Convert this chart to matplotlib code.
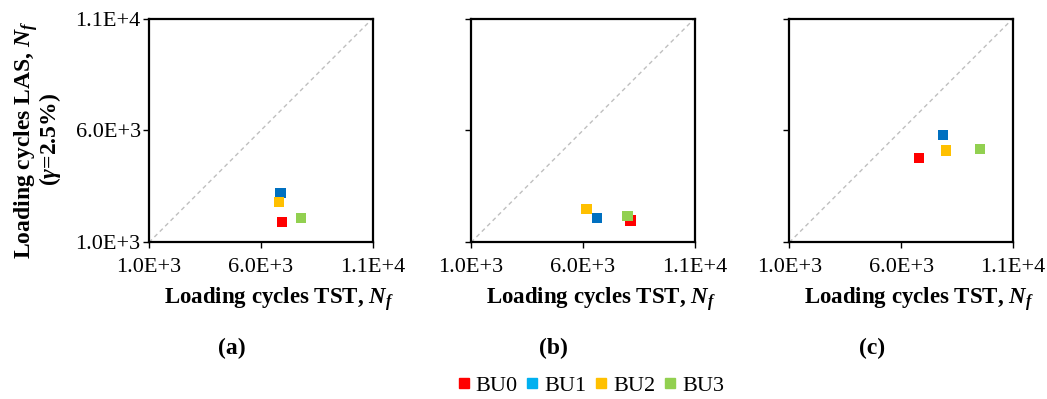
import matplotlib.pyplot as plt
from matplotlib.lines import Line2D

plt.rcParams['font.family'] = 'Liberation Serif'
plt.rcParams['mathtext.fontset'] = 'custom'
plt.rcParams['mathtext.rm'] = 'Liberation Serif'
plt.rcParams['mathtext.it'] = 'Liberation Serif:italic:bold'
plt.rcParams['mathtext.bf'] = 'Liberation Serif:bold'

series = ['BU0', 'BU1', 'BU2', 'BU3']
point_colors = ['#FF0000', '#0070C0', '#FFC000', '#92D050']
legend_colors = ['#FF0000', '#00B0F0', '#FFC000', '#92D050']

# loading cycles per binder: TST (x) vs LAS (y), one list per panel
tst_a = [6950, 6890, 6820, 7800]
las_a = [1900, 3210, 2800, 2095]
tst_b = [8130, 6650, 6160, 8000]
las_b = [1975, 2075, 2490, 2175]
tst_c = [6790, 7890, 8010, 9520]
las_c = [4775, 5790, 5105, 5175]

panels = [(tst_a, las_a, '(a)'), (tst_b, las_b, '(b)'), (tst_c, las_c, '(c)')]
ticks = [1000, 6000, 11000]
tick_labels = ['1.0E+3', '6.0E+3', '1.1E+4']

fig = plt.figure(figsize=(10.47, 3.99), dpi=100)
lefts = [0.1423, 0.4499, 0.7539]

for i, (tst, las, tag) in enumerate(panels):
    ax = fig.add_axes([lefts[i], 0.3925, 0.2135, 0.5610])
    ax.plot([1000, 11000], [1000, 11000], color='#BFBFBF', lw=1,
            dashes=(3, 2.5), zorder=1)
    for x, y, c in zip(tst, las, point_colors):
        ax.scatter(x, y, s=55, marker='s', color=c, edgecolors='none', zorder=3)
    ax.set_xlim(1000, 11000)
    ax.set_ylim(1000, 11000)
    ax.set_xticks(ticks)
    ax.set_yticks(ticks)
    ax.set_xticklabels(tick_labels, fontsize=16)
    if i == 0:
        ax.set_yticklabels(tick_labels, fontsize=16)
        ax.set_ylabel('Loading cycles LAS, $N_f$\n($\\gamma$=2.5%)',
                      fontsize=17, fontweight='bold', linespacing=0.82)
        ax.yaxis.set_label_coords(-0.385, 0.46)
    else:
        ax.set_yticklabels([])
    ax.set_xlabel('Loading cycles TST, $N_f$', fontsize=16.5,
                  fontweight='bold')
    ax.xaxis.set_label_coords(0.58, -0.19)
    ax.tick_params(direction='out', length=4, width=1)
    ax.tick_params(axis='x', pad=7)
    ax.tick_params(axis='y', pad=2)
    for sp in ax.spines.values():
        sp.set_linewidth(1.6)
    ax.text(0.37, -0.472, tag, transform=ax.transAxes, ha='center',
            va='center', fontsize=17, fontweight='bold')

handles = [Line2D([], [], marker='s', linestyle='none', color=c,
                  markersize=6.5) for c in legend_colors]
fig.legend(handles, series, loc='center', bbox_to_anchor=(0.564, 0.033),
           ncol=4, frameon=False, fontsize=16, handletextpad=0.25,
           columnspacing=0.35, handlelength=0.6)

fig.savefig('out.png', dpi=100)
